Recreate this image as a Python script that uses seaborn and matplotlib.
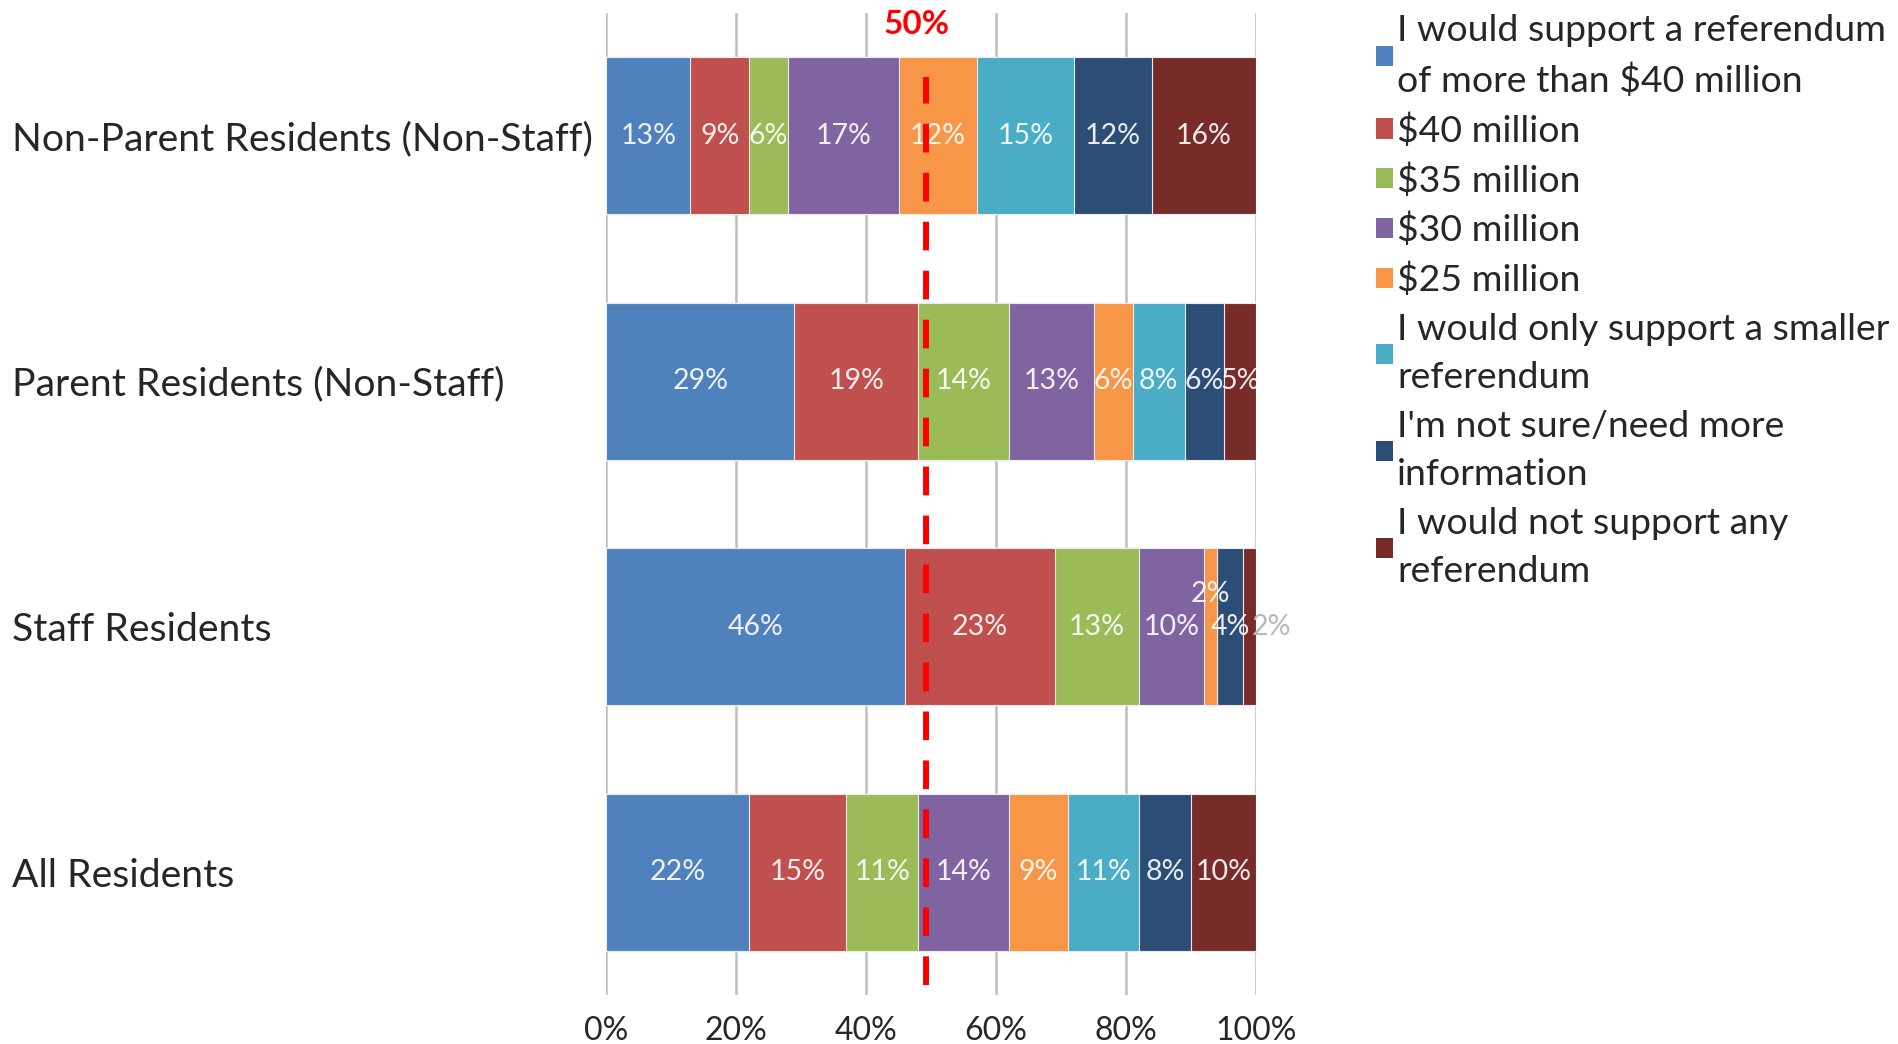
import numpy as np
import pandas as pd
import matplotlib
matplotlib.use("Agg")
import matplotlib.pyplot as plt
from matplotlib.patches import Patch
import seaborn as sns

# ---------------- data ----------------
categories = [
    "Non-Parent Residents (Non-Staff)",
    "Parent Residents (Non-Staff)",
    "Staff Residents",
    "All Residents",
]
series_names = [
    "I would support a referendum\nof more than $40 million",
    "$40 million",
    "$35 million",
    "$30 million",
    "$25 million",
    "I would only support a smaller\nreferendum",
    "I'm not sure/need more\ninformation",
    "I would not support any\nreferendum",
]
more_than_40 = [13, 29, 46, 22]
m40 = [9, 19, 23, 15]
m35 = [6, 14, 13, 11]
m30 = [17, 13, 10, 14]
m25 = [12, 6, 2, 9]
smaller = [15, 8, 0, 11]
not_sure = [12, 6, 4, 8]
no_support = [16, 5, 2, 10]
x_ticks = [0, 20, 40, 60, 80, 100]
x_tick_labels = ["0%", "20%", "40%", "60%", "80%", "100%"]
threshold = 49.3
threshold_label = "50%"

colors = ["#4F81BD", "#C0504D", "#9BBB59", "#8064A2",
          "#F79646", "#4BACC6", "#2C4D75", "#772C2A"]

values = np.array([more_than_40, m40, m35, m30, m25, smaller, not_sure, no_support],
                  dtype=float).T  # shape (n_cat, n_series)
cum = np.cumsum(values, axis=1)

# ---------------- style ----------------
sns.set_theme(style="white")
plt.rcParams["font.family"] = ["Lato", "DejaVu Sans"]

W, H = 1899, 1044
fig = plt.figure(figsize=(W / 100, H / 100), dpi=100)
ax_left, ax_right, ax_top, ax_bottom = 606, 1256, 13, 995
ax = fig.add_axes([ax_left / W, 1 - ax_bottom / H,
                   (ax_right - ax_left) / W, (ax_bottom - ax_top) / H])

# stacked bars: draw cumulative totals from the last series to the first
for i in reversed(range(values.shape[1])):
    df = pd.DataFrame({"category": categories, "cum": cum[:, i]})
    sns.barplot(data=df, x="cum", y="category", orient="h", color=colors[i],
                saturation=1, width=0.64, edgecolor="#ececec", linewidth=0.8,
                ax=ax, zorder=2)

# segment labels
special = {(2, 4): (0, -0.135, "white"), (2, 7): (3.4, 0, "#b8b8b8")}
for r in range(len(categories)):
    for i in range(values.shape[1]):
        v = values[r, i]
        if v <= 0:
            continue
        xc = cum[r, i] - v / 2
        dx, dy, col = special.get((r, i), (0, 0, "white"))
        ax.text(xc + dx, r + dy, f"{int(v)}%", ha="center", va="center",
                color=col, alpha=0.9 if col == "white" else 1, fontsize=20.5,
                zorder=5, clip_on=False)

# threshold line
ax.axvline(threshold, ymin=0.01, ymax=0.935, color="#FF0000", lw=4.3,
           dashes=(4.8, 3.4), zorder=6)
ax.text(threshold - 1.5, -0.455, threshold_label, ha="center", va="center",
        color="#FF0000", fontsize=24, fontweight="bold", zorder=7, clip_on=False)

ax.set_xlim(0, 100)
ax.set_ylim(len(categories) - 0.5, -0.5)
ax.set_xticks(x_ticks)
ax.set_xticklabels(x_tick_labels, fontsize=23, color="#262626")
ax.set_xlabel("")
ax.set_ylabel("")
ax.grid(axis="x", color="#BFBFBF", lw=1.8, zorder=0)
ax.set_axisbelow(True)
for s in ax.spines.values():
    s.set_visible(False)
ax.tick_params(axis="x", length=0, pad=15)
ax.tick_params(axis="y", length=0, pad=(ax_left - 12) / 100 * 72)
for lab in ax.get_yticklabels():
    lab.set_ha("left")
    lab.set_fontsize(28.2)
    lab.set_color("#262626")

handles = [Patch(facecolor=c, edgecolor="none") for c in colors]
leg = fig.legend(handles, series_names, loc="upper left",
                 bbox_to_anchor=(1376 / W, 1 - 14 / H), frameon=False,
                 fontsize=26.9, borderpad=0, borderaxespad=0,
                 handlelength=0.45, handleheight=0.45, handletextpad=0.12,
                 labelspacing=0.41)
for t in leg.get_texts():
    t.set_color("#262626")
    t.set_linespacing(1.58)

fig.savefig("out.png", dpi=100)
